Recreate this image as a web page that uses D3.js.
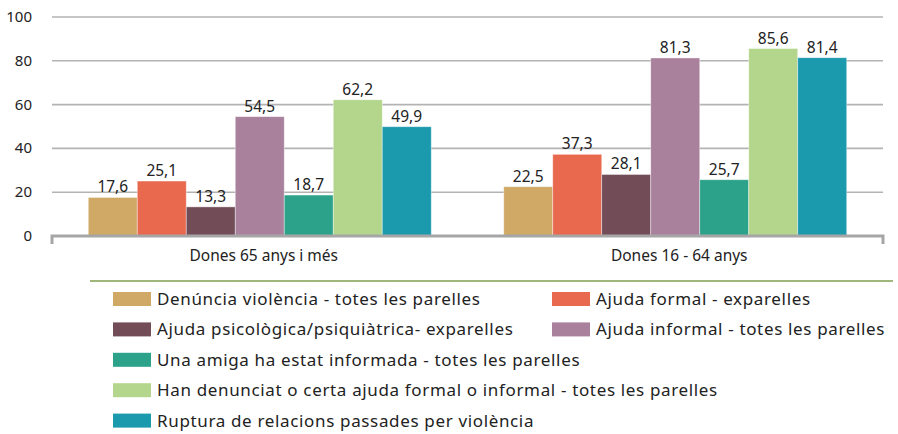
<!DOCTYPE html>
<meta charset="utf-8">
<style>
  body { margin: 0; background: #fff; }
  svg text { font-family: "Noto Sans", sans-serif; fill: #222; }
</style>
<svg width="898" height="434"></svg>
<script src="https://cdn.jsdelivr.net/npm/d3@7"></script>
<script>

var groups = ["Dones 65 anys i més", "Dones 16 - 64 anys"];
var series = [
  "Denúncia violència - totes les parelles",
  "Ajuda formal - exparelles",
  "Ajuda psicològica/psiquiàtrica- exparelles",
  "Ajuda informal - totes les parelles",
  "Una amiga ha estat informada - totes les parelles",
  "Han denunciat o certa ajuda formal o informal - totes les parelles",
  "Ruptura de relacions passades per violència"
];
var values65 = [17.6, 25.1, 13.3, 54.5, 18.7, 62.2, 49.9];
var values16 = [22.5, 37.3, 28.1, 81.3, 25.7, 85.6, 81.4];
var colors = ["#cfa965", "#e9694e", "#724d58", "#a9819c", "#2ca28a", "#b3d68c", "#1b99ad"];
var yTicks = [0, 20, 40, 60, 80, 100];

var svg = d3.select("svg");
var plotLeft = 52, plotRight = 883, plotTop = 17, plotBottom = 236;

var x0 = d3.scaleBand().domain(groups).range([plotLeft, plotRight])
    .paddingInner(0.1745).paddingOuter(0.0873);
var x1 = d3.scaleBand().domain(series).range([0, x0.bandwidth()]);
var y = d3.scaleLinear().domain([0, 100]).range([plotBottom, plotTop]);
var color = d3.scaleOrdinal().domain(series).range(colors);

var rows = [values65, values16];
var fmt = function(v) { return d3.format(".1f")(v).replace(".", ","); };

// grid
svg.append("g").selectAll("line")
  .data(yTicks.filter(function(d) { return d > 0; }))
  .join("line")
    .attr("x1", plotLeft).attr("x2", plotRight)
    .attr("y1", y).attr("y2", y)
    .attr("stroke", "#b3b3b3").attr("stroke-width", 1.6);

// y labels
svg.append("g").selectAll("text")
  .data(yTicks)
  .join("text")
    .attr("x", 32).attr("y", function(d) { return y(d) + 5; })
    .attr("text-anchor", "end")
    .style("font-size", "15px")
    .text(function(d) { return d; });

// bars
var g = svg.append("g").selectAll("g")
  .data(groups)
  .join("g")
    .attr("transform", function(d) { return "translate(" + x0(d) + ",0)"; });

function cells(d, i) {
  return series.map(function(s, j) { return {s: s, v: rows[i][j]}; });
}

g.selectAll("rect")
  .data(cells)
  .join("rect")
    .attr("x", function(d) { return x1(d.s); })
    .attr("y", function(d) { return y(d.v); })
    .attr("width", x1.bandwidth())
    .attr("height", function(d) { return y(0) - y(d.v); })
    .attr("fill", function(d) { return color(d.s); })
    .attr("stroke", "rgba(255,255,255,0.5)").attr("stroke-width", 0.8);

g.selectAll("text")
  .data(cells)
  .join("text")
    .attr("x", function(d) { return x1(d.s) + x1.bandwidth() / 2; })
    .attr("y", function(d) { return y(d.v) - 5; })
    .attr("text-anchor", "middle")
    .style("font-size", "15.5px")
    .text(function(d) { return fmt(d.v); });

// baseline
svg.append("path")
    .attr("d", "M" + plotLeft + "," + (plotBottom + 8) + "V" + plotBottom + "H" + plotRight + "V" + (plotBottom + 8))
    .attr("fill", "none").attr("stroke", "#a6a6a6").attr("stroke-width", 3);

// category labels
svg.append("g").selectAll("text")
  .data(groups)
  .join("text")
    .attr("x", function(d) { return x0(d) + x0.bandwidth() / 2 + 4; })
    .attr("y", 261)
    .attr("text-anchor", "middle")
    .style("font-size", "15.5px")
    .text(function(d) { return d; });

// separator
svg.append("line")
    .attr("x1", 90).attr("x2", 893).attr("y1", 281).attr("y2", 281)
    .attr("stroke", "#7f9f4e").attr("stroke-width", 1.5);

// legend
var legend = svg.append("g").selectAll("g")
  .data(series)
  .join("g")
    .attr("transform", function(d, i) {
      var col = i < 4 ? i % 2 : 0;
      var row = i < 4 ? Math.floor(i / 2) : i - 2;
      return "translate(" + (113 + col * 439) + "," + (299 + row * 30.4) + ")";
    });

legend.append("rect")
    .attr("x", 0).attr("y", -7).attr("width", 38).attr("height", 14)
    .attr("fill", color);

legend.append("text")
    .attr("x", 44).attr("y", 6)
    .style("font-size", "17px")
    .style("letter-spacing", "0.65px")
    .text(function(d) { return d; });

</script>
